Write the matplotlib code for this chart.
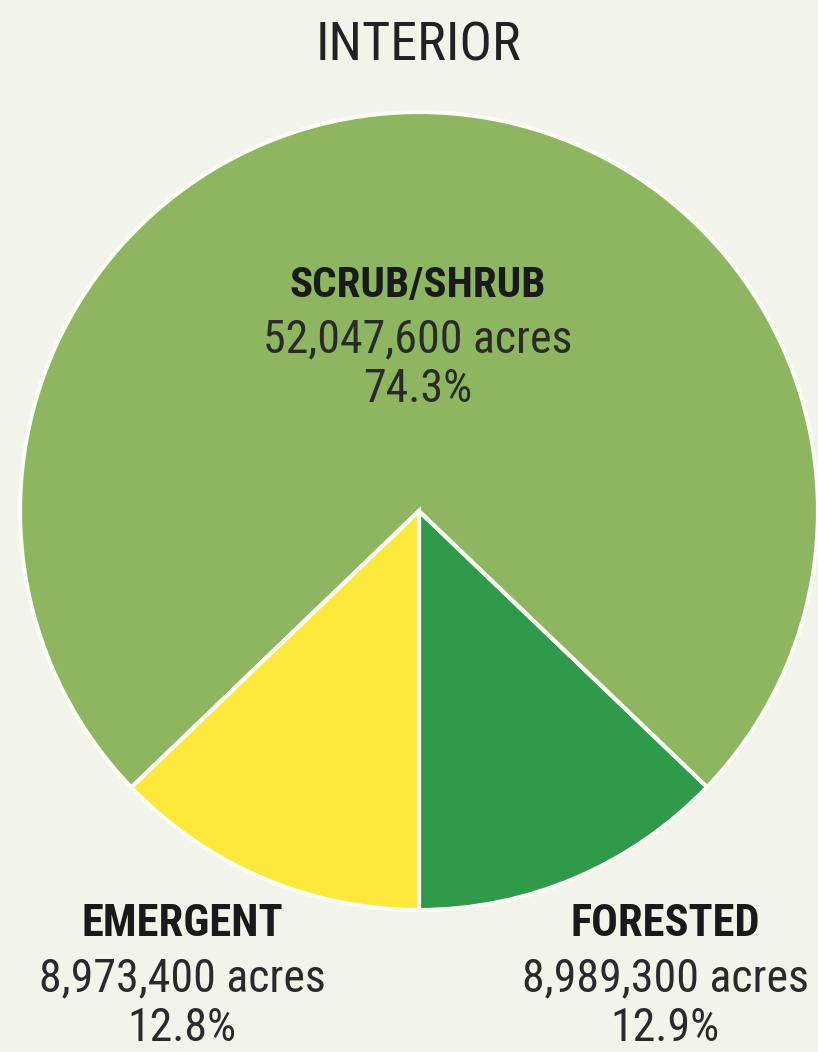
import matplotlib.pyplot as plt
from matplotlib import font_manager

# wetland acreage, interior region
categories = ['FORESTED', 'SCRUB/SHRUB', 'EMERGENT']
acres = [8989300, 52047600, 8973400]
acre_labels = ['8,989,300 acres', '52,047,600 acres', '8,973,400 acres']
pct_labels = ['12.9%', '74.3%', '12.8%']
colors = ['#2f9a4a', '#8eb660', '#fde93c']

# narrow grotesque for all the lettering
names = {f.name for f in font_manager.fontManager.ttflist}
family = 'DejaVu Sans'
for cand in ['Roboto Condensed', 'Archivo Narrow', 'Liberation Sans Narrow', 'PT Sans Narrow']:
    if cand in names:
        family = cand
        break
plt.rcParams['font.family'] = [family, 'DejaVu Sans']

W, H = 818, 1052
fig = plt.figure(figsize=(W / 100, H / 100), dpi=100)
fig.patch.set_facecolor('#f2f4ea')
ax = fig.add_axes([0, 0, 1, 1])

cx, cy, r = 419, H - 511, 399
ax.pie(acres, colors=colors, startangle=-90, counterclock=True,
       center=(cx, cy), radius=r, frame=True,
       wedgeprops=dict(edgecolor='#fbfdf4', linewidth=3))
ax.set_xlim(0, W)
ax.set_ylim(0, H)
ax.set_aspect('equal')
ax.axis('off')

ax.text(418, H - 46, 'INTERIOR', ha='center', va='center',
        fontsize=39, color='#222222')

# label blocks: name, acreage, share
spots = [(665, H - 924), (418, H - 285), (182, H - 924)]
sizes = [32, 31, 32]
for (x, y), fs, name, ac, pc in zip(spots, sizes, categories, acre_labels, pct_labels):
    ax.text(x, y, name, ha='center', va='center', fontsize=fs,
            fontweight='bold', color='#1a1a1a')
    ax.text(x, y - 54, ac, ha='center', va='center', fontsize=33,
            color='#2a2a2a')
    ax.text(x, y - 104, pc, ha='center', va='center', fontsize=33,
            color='#2a2a2a')

fig.savefig('out.png', dpi=100, facecolor=fig.get_facecolor())
